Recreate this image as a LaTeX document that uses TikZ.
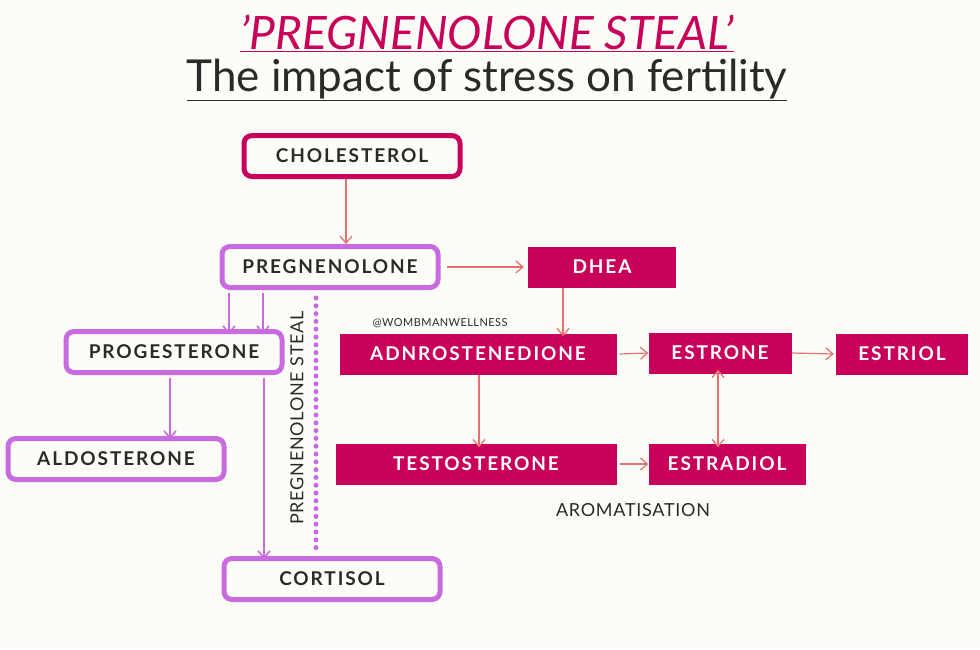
\documentclass[tikz,border=0pt]{standalone}
\usepackage{fontspec}
\setmainfont{Lato}
\newfontfamily\boxfont[LetterSpace=10]{Lato}
\newfontfamily\thinfont[LetterSpace=4]{Lato}
\usetikzlibrary{arrows.meta,positioning}
\definecolor{bg}{HTML}{FDFDF7}
\definecolor{magenta}{HTML}{C8005A}
\definecolor{lilac}{HTML}{C86BE0}
\definecolor{salmon}{HTML}{E87070}
\definecolor{ink}{HTML}{2A2A2A}

\begin{document}
\begin{tikzpicture}[x=1pt,y=-1pt,
        lbox/.style={draw=lilac, line width=5pt, rounded corners=8pt, fill=bg, minimum width=216pt, minimum height=41pt, font=\boxfont\bfseries\fontsize{19}{19}\selectfont, text=ink},
        mbox/.style={lbox, draw=magenta},
        fbox/.style={fill=magenta, minimum height=41pt, font=\boxfont\bfseries\fontsize{19}{19}\selectfont, text=white},
        redarr/.style={-{Straight Barb[length=7pt,width=12pt]}, salmon, line width=1.2pt},
        purarr/.style={-{Straight Barb[length=7pt,width=12pt]}, lilac, line width=1.5pt}
      ]
        \fill[bg] (0,0) rectangle (980,649);
        % title
        \node[text=magenta, font=\itshape\fontsize{46}{46}\selectfont] (title) at (487,33) {\underline{'PREGNENOLONE STEAL'}};
        \node[text=ink, font=\fontsize{44}{44}\selectfont] (subtitle) at (487,80) {\underline{The impact of stress on fertility}};
        % nodes
        \node[mbox] (chol) at (352,156) {CHOLESTEROL};
        \node[lbox] (preg) at (330,267) {PREGNENOLONE};
        \node[lbox] (prog) at (174,352) {PROGESTERONE};
        \node[lbox] (aldo) at (116,459) {ALDOSTERONE};
        \node[lbox] (cort) at (332,579) {CORTISOL};
        \node[fbox, minimum width=148pt] (dhea) at (602,267) {DHEA};
        \node[fbox, minimum width=277pt] (adn) at (478,354) {ADNROSTENEDIONE};
        \node[fbox, minimum width=143pt] (estrone) at (720,353) {ESTRONE};
        \node[fbox, minimum width=132pt] (estriol) at (902,354) {ESTRIOL};
        \node[fbox, minimum width=281pt] (testo) at (476,464) {TESTOSTERONE};
        \node[fbox, minimum width=157pt] (estradiol) at (727,464) {ESTRADIOL};
        \node[text=ink, font=\thinfont\fontsize{11}{11}\selectfont] (tag) at (440,323) {@WOMBMANWELLNESS};
        \node[text=ink, font=\thinfont\fontsize{18}{18}\selectfont] (arom) at (633,510) {AROMATISATION};
        \node[text=ink, rotate=90, font=\thinfont\fontsize{18}{18}\selectfont] (steal) at (297,418) {PREGNENOLONE STEAL};
        \coordinate (dotA) at (316,298);
        \coordinate (dotB) at (316,548);
        \draw[lilac, line width=5pt, line cap=round, dash pattern=on 0pt off 7.8pt] (dotA) -- (dotB);

        % connectors
        \draw[redarr] (chol.south -| 346,0) -- (preg.north -| 346,0);
        \draw[redarr] ([xshift=6pt]preg.east) -- ([xshift=-4pt]dhea.west);
        \draw[redarr] (dhea.south -| 563,0) -- ([yshift=-3pt]adn.north -| 563,0);
        \draw[redarr] ([xshift=3pt]adn.east) -- (estrone.west);
        \draw[redarr] (estrone.east) -- ([xshift=-2pt]estriol.west);
        \draw[redarr] (adn.south -| 479,0) -- ([yshift=-4pt]testo.north -| 479,0);
        \draw[redarr] ([xshift=3pt]testo.east) -- (estradiol.west);
        \draw[redarr, {Straight Barb[length=7pt,width=12pt]}-{Straight Barb[length=7pt,width=12pt]}] ([yshift=-4pt]estradiol.north -| 718,0) -- ([yshift=4pt]estrone.south -| 718,0);
        \draw[purarr] ([yshift=-2.5pt]preg.south -| 229,0) -- ([yshift=-5pt]prog.north -| 229,0);
        \draw[purarr] ([yshift=-2.5pt]preg.south -| 263,0) -- ([yshift=-5pt]prog.north -| 263,0);
        \draw[purarr] ([yshift=-2.5pt]prog.south -| 170,0) -- ([yshift=-3pt]aldo.north -| 170,0);
        \draw[purarr] ([yshift=-2.5pt]prog.south -| 264,0) -- ([yshift=-3pt]cort.north -| 264,0);
      \end{tikzpicture}
\end{document}
